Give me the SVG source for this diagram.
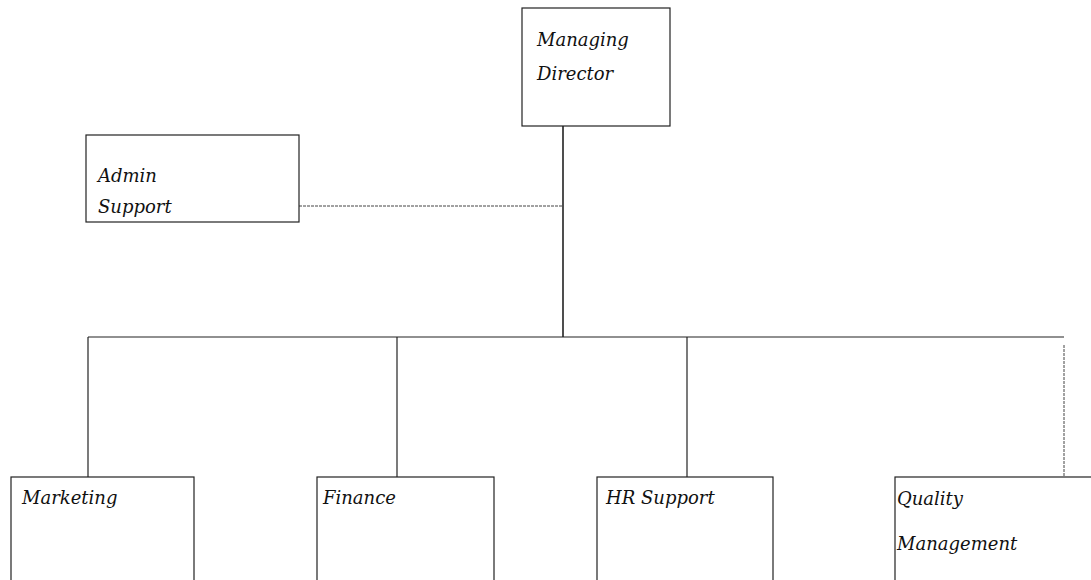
<svg xmlns="http://www.w3.org/2000/svg" width="1091" height="580" viewBox="0 0 1091 580">
<style>
.box{fill:#fff;stroke:#222;stroke-width:1.2}
.lbl{font-family:"DejaVu Serif","Liberation Serif",serif;font-style:italic;font-size:18px;fill:#111}
.con{fill:none;stroke:#222;stroke-width:1.2}
.thin{fill:none;stroke:#444;stroke-width:1;stroke-dasharray:3 1}
</style>
<rect width="1091" height="580" fill="#fff"/>
<g id="connectors">
<line class="con" x1="563" y1="126" x2="563" y2="337" style="stroke-width:1.6"/>
<line class="thin" x1="299" y1="206" x2="563" y2="206"/>
<line class="con" x1="88" y1="337" x2="1064" y2="337"/>
<line class="con" x1="88" y1="337" x2="88" y2="477"/>
<line class="con" x1="397" y1="337" x2="397" y2="477"/>
<line class="con" x1="687" y1="337" x2="687" y2="477"/>
<line class="thin" x1="1064" y1="345" x2="1064" y2="477"/>
</g>
<g id="managing-director">
<rect class="box" x="522" y="8" width="148" height="118"/>
<text class="lbl" x="537" y="46">Managing</text>
<text class="lbl" x="537" y="80">Director</text>
</g>
<g id="admin-support">
<rect class="box" x="86" y="135" width="213" height="87"/>
<text class="lbl" x="98" y="182">Admin</text>
<text class="lbl" x="98" y="213">Support</text>
</g>
<g id="marketing">
<rect class="box" x="11" y="477" width="183" height="110"/>
<text class="lbl" x="22" y="504">Marketing</text>
</g>
<g id="finance">
<rect class="box" x="317" y="477" width="177" height="110"/>
<text class="lbl" x="323" y="504">Finance</text>
</g>
<g id="hr-support">
<rect class="box" x="597" y="477" width="176" height="110"/>
<text class="lbl" x="606" y="504">HR Support</text>
</g>
<g id="quality-management">
<rect class="box" x="895" y="477" width="200" height="110"/>
<text class="lbl" x="897" y="505">Quality</text>
<text class="lbl" x="897" y="550">Management</text>
</g>
</svg>
